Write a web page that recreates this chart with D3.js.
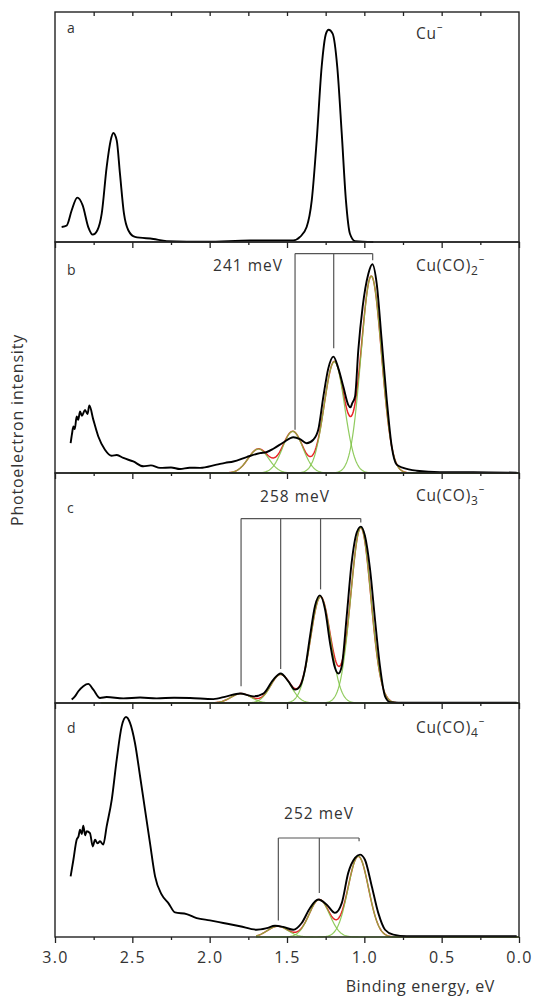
<!DOCTYPE html>
<html>
<head>
<meta charset="utf-8">
<script src="https://cdn.jsdelivr.net/npm/d3@7"></script>
<style>
  body { margin: 0; background: #fff; }
  svg text { font-family: "Open Sans", "DejaVu Sans", sans-serif; fill: #333; }
</style>
</head>
<body>
<svg id="chart" width="535" height="997"></svg>
<script>
// x axis ticks (binding energy, eV)
const majorTicks = [3.0, 2.5, 2.0, 1.5, 1.0, 0.5, 0.0];
const minorTicks = [2.75, 2.25, 1.75, 1.25, 0.75, 0.25];

const panelLetters = ['a', 'b', 'c', 'd'];
const speciesCO = ['', '2', '3', '4'];   // subscript of (CO)n, '' = bare Cu
const spacingLabels = [null, '241 meV', '258 meV', '252 meV'];

// measured spectra: [binding energy eV, intensity % of panel height]
const spectrumA = [
  [2.957, 6.5], [2.924, 7.2], [2.892, 13.8], [2.856, 19.3], [2.821, 15.9], [2.785, 6.5],
  [2.756, 3.2], [2.726, 5.1], [2.698, 12.3], [2.666, 32.6], [2.640, 44.2], [2.623, 47.4],
  [2.601, 44.2], [2.580, 29.7], [2.554, 12.3], [2.526, 5.1], [2.483, 2.2], [2.364, 1.3],
  [2.278, 0.4], [2.019, 0.1], [1.739, 0.7], [1.459, 0.7], [1.416, 2.2], [1.373, 6.5],
  [1.340, 18.1], [1.308, 44.2], [1.276, 76.1], [1.248, 90.6], [1.231, 92.3], [1.205, 90.6],
  [1.175, 76.1], [1.146, 47.1], [1.119, 18.1], [1.093, 3.6], [1.060, 0.4], [0.942, 0.0]
];
const spectrumB = [
  [2.899, 12.9], [2.890, 17.0], [2.881, 20.1], [2.872, 19.0], [2.860, 24.5], [2.850, 23.0],
  [2.838, 26.6], [2.826, 24.8], [2.806, 27.3], [2.790, 25.5], [2.778, 29.2], [2.752, 23.0],
  [2.720, 15.8], [2.677, 10.1], [2.634, 7.5], [2.600, 7.8], [2.558, 6.5], [2.494, 5.0],
  [2.429, 2.9], [2.380, 3.3], [2.321, 2.2], [2.250, 2.4], [2.192, 1.7], [2.130, 2.3],
  [2.062, 2.2], [1.955, 3.6], [1.900, 4.4], [1.847, 5.0], [1.761, 6.9], [1.675, 8.6],
  [1.630, 9.1], [1.588, 10.5], [1.524, 13.2], [1.459, 15.5], [1.416, 14.7], [1.373, 12.9],
  [1.330, 14.4], [1.298, 18.7], [1.265, 33.1], [1.233, 45.3], [1.200, 50.4], [1.168, 45.3],
  [1.136, 37.4], [1.104, 29.5], [1.090, 28.4], [1.078, 30.2], [1.060, 33.1], [1.039, 53.2],
  [1.011, 71.9], [0.974, 86.3], [0.948, 90.4], [0.920, 82.0], [0.888, 57.6], [0.855, 31.7],
  [0.823, 11.5], [0.791, 3.6], [0.748, 2.2], [0.662, 1.0], [0.511, 0.4], [0.295, 0.4],
  [0.015, 0.1]
];
const spectrumC = [
  [2.892, 1.5], [2.871, 2.9], [2.849, 5.1], [2.817, 7.3], [2.785, 8.3], [2.752, 5.8],
  [2.709, 2.2], [2.666, 2.6], [2.558, 2.0], [2.450, 2.4], [2.343, 2.0], [2.230, 2.3],
  [2.127, 2.2], [1.976, 1.7], [1.890, 2.9], [1.804, 4.1], [1.718, 2.9], [1.653, 4.1],
  [1.588, 10.2], [1.541, 12.8], [1.491, 9.4], [1.448, 5.8], [1.416, 7.3], [1.384, 14.5],
  [1.351, 29.1], [1.319, 42.2], [1.287, 46.8], [1.254, 40.7], [1.222, 26.2], [1.190, 15.3],
  [1.168, 12.8], [1.146, 16.0], [1.114, 37.8], [1.082, 61.0], [1.049, 74.1], [1.023, 76.7],
  [0.996, 72.7], [0.963, 58.1], [0.931, 36.3], [0.899, 16.0], [0.866, 2.9], [0.834, 0.4],
  [0.726, 0.1], [0.015, 0.1]
];
const spectrumD = [
  [2.899, 25.9], [2.881, 33.0], [2.860, 41.6], [2.848, 43.0], [2.838, 45.9], [2.827, 44.0],
  [2.817, 47.6], [2.805, 43.5], [2.795, 45.2], [2.774, 44.4], [2.756, 38.7], [2.741, 41.6],
  [2.725, 40.0], [2.709, 40.9], [2.688, 39.5], [2.666, 47.3], [2.633, 58.7], [2.601, 75.8],
  [2.569, 90.0], [2.541, 94.0], [2.515, 91.5], [2.483, 82.9], [2.450, 68.7], [2.418, 54.4],
  [2.386, 40.2], [2.353, 25.9], [2.310, 18.1], [2.267, 14.5], [2.224, 10.5], [2.149, 9.8],
  [2.084, 8.1], [1.998, 7.1], [1.912, 6.0], [1.804, 4.6], [1.696, 3.1], [1.631, 3.8],
  [1.578, 4.8], [1.524, 4.3], [1.459, 3.1], [1.405, 6.0], [1.351, 12.4], [1.298, 16.0],
  [1.243, 13.8], [1.190, 10.3], [1.146, 14.5], [1.104, 27.4], [1.060, 33.8], [1.028, 35.2],
  [0.996, 33.0], [0.952, 21.7], [0.910, 10.3], [0.866, 3.1], [0.813, 1.0], [0.726, 0.3],
  [0.015, 0.3]
];

// gaussian fit components: [centre eV, height %]
const fitB = [[0.955, 85.2], [1.194, 48.2], [1.463, 18.0], [1.685, 10.4]];
const fitC = [[1.023, 76.3], [1.283, 46.2], [1.541, 12.4], [1.797, 4.1]];
const fitD = [[1.039, 34.5], [1.291, 16.0], [1.560, 4.6]];
const fitSigma = [null, 0.066, 0.065, 0.066];
const fitStart = [null, 2.9, 2.7, 1.7];

// vibrational progression brackets: bar height %, [energy, drop-to %]
const bracketBar = [null, 95.0, 80.2, 42.3];
const bracketLegs = [
  null,
  [[1.448, 18.7], [1.198, 54.0], [0.946, 92.1]],
  [[1.797, 7.3], [1.541, 14.8], [1.283, 49.4], [1.023, 78.5]],
  [[1.556, 7.1], [1.291, 18.8], [1.034, 40.9]]
];

const spectra = [spectrumA, spectrumB, spectrumC, spectrumD];
const fits = [null, fitB, fitC, fitD];

// layout
const left = 55, right = 519;
const panelTops = [12, 242, 473, 703];
const plotBottom = 937;
const letterY = [21, 33, 40, 30];
const speciesY = [27, 29, 28, 30];
const meVPos = [null, { x: 283, y: 271, anchor: 'end' }, { x: 295, y: 502, anchor: 'middle' }, { x: 319, y: 819, anchor: 'middle' }];

const svg = d3.select('#chart');
const x = d3.scaleLinear().domain([3, 0]).range([left, right]);

const gauss = (e, c, h, s) => h * Math.exp(-((e - c) ** 2) / (2 * s * s));

panelLetters.forEach((letter, i) => {
  const top = panelTops[i];
  const bottom = i < 3 ? panelTops[i + 1] : plotBottom;
  const y = d3.scaleLinear().domain([0, 100]).range([bottom, top]);
  const g = svg.append('g');
  const line = d3.line().x(d => x(d[0])).y(d => y(d[1]));

  // fits
  if (fits[i]) {
    const grid = d3.range(fitStart[i], -0.0001, -0.004);
    const sumPts = grid.map(e => [e, d3.sum(fits[i], p => gauss(e, p[0], p[1], fitSigma[i]))]);
    g.append('path')
      .attr('d', line(sumPts))
      .attr('fill', 'none').attr('stroke', '#e8262a').attr('stroke-width', 1.5);
    fits[i].forEach(p => {
      const pts = grid.map(e => [e, gauss(e, p[0], p[1], fitSigma[i])]);
      g.append('path')
        .attr('d', line(pts))
        .attr('fill', 'none').attr('stroke', '#7dc242').attr('stroke-width', 1.2)
        .attr('stroke-opacity', 0.85);
    });
  }

  // measured spectrum
  g.append('path')
    .attr('d', line.curve(d3.curveMonotoneX)(spectra[i]))
    .attr('fill', 'none').attr('stroke', '#000').attr('stroke-width', 1.9)
    .attr('stroke-linejoin', 'round');

  // bracket
  if (bracketLegs[i]) {
    const legs = bracketLegs[i];
    const yb = y(bracketBar[i]);
    g.append('line')
      .attr('x1', x(legs[0][0])).attr('x2', x(legs[legs.length - 1][0]))
      .attr('y1', yb).attr('y2', yb)
      .attr('stroke', '#555').attr('stroke-width', 1.2);
    legs.forEach(l => {
      g.append('line')
        .attr('x1', x(l[0])).attr('x2', x(l[0]))
        .attr('y1', yb).attr('y2', y(l[1]))
        .attr('stroke', '#555').attr('stroke-width', 1.2);
    });
    const m = meVPos[i];
    g.append('text').attr('x', m.x).attr('y', m.y).attr('text-anchor', m.anchor)
      .attr('font-size', 15.5).attr('letter-spacing', 1).text(spacingLabels[i]);
  }

  // frame
  g.append('rect')
    .attr('x', left).attr('y', top).attr('width', right - left).attr('height', bottom - top)
    .attr('fill', 'none').attr('stroke', '#222').attr('stroke-width', 1.4);

  // bottom ticks pointing down
  const axis = d3.axisBottom(x).tickValues(majorTicks).tickSize(6)
    .tickFormat(i === 3 ? d3.format('.1f') : '');
  const ax = g.append('g').attr('transform', `translate(0,${bottom})`).call(axis);
  ax.select('.domain').remove();
  ax.selectAll('line').attr('stroke', '#222').attr('stroke-width', 1.3);
  ax.selectAll('text').attr('font-size', 16).attr('letter-spacing', 1.3)
    .attr('dy', '1.05em').attr('fill', '#333')
    .style('font-family', '"Open Sans", sans-serif');
  const axMinor = g.append('g').attr('transform', `translate(0,${bottom})`)
    .call(d3.axisBottom(x).tickValues(minorTicks).tickSize(3).tickFormat(''));
  axMinor.select('.domain').remove();
  axMinor.selectAll('line').attr('stroke', '#222').attr('stroke-width', 1.3);

  if (i === 0) {
    const axTop = g.append('g').attr('transform', `translate(0,${top})`)
      .call(d3.axisBottom(x).tickValues(minorTicks.concat(majorTicks.slice(1, -1))).tickSize(4).tickFormat(''));
    axTop.select('.domain').remove();
    axTop.selectAll('line').attr('stroke', '#222').attr('stroke-width', 1.3);
  }

  // labels
  g.append('text').attr('x', 67).attr('y', top + letterY[i])
    .attr('font-size', 14).text(letter);
  const sp = g.append('text').attr('x', 416).attr('y', top + speciesY[i])
    .attr('font-size', 15.5).attr('letter-spacing', 0.8);
  if (speciesCO[i] === '') {
    sp.append('tspan').text('Cu');
    sp.append('tspan').attr('font-size', 11).attr('dy', -9).text('\u2013');
  } else {
    sp.append('tspan').text('Cu(CO)');
    sp.append('tspan').attr('font-size', 12).attr('dy', 4).text(speciesCO[i]);
    sp.append('tspan').attr('font-size', 11).attr('dy', -13).text('\u2013');
  }
});

svg.append('text')
  .attr('x', 495).attr('y', 992).attr('text-anchor', 'end')
  .attr('font-size', 16).attr('letter-spacing', 0.6)
  .text('Binding energy, eV');

svg.append('text')
  .attr('transform', 'translate(23,430) rotate(-90)')
  .attr('text-anchor', 'middle')
  .attr('font-size', 16).attr('letter-spacing', 0.8)
  .text('Photoelectron intensity');
</script>
</body>
</html>
